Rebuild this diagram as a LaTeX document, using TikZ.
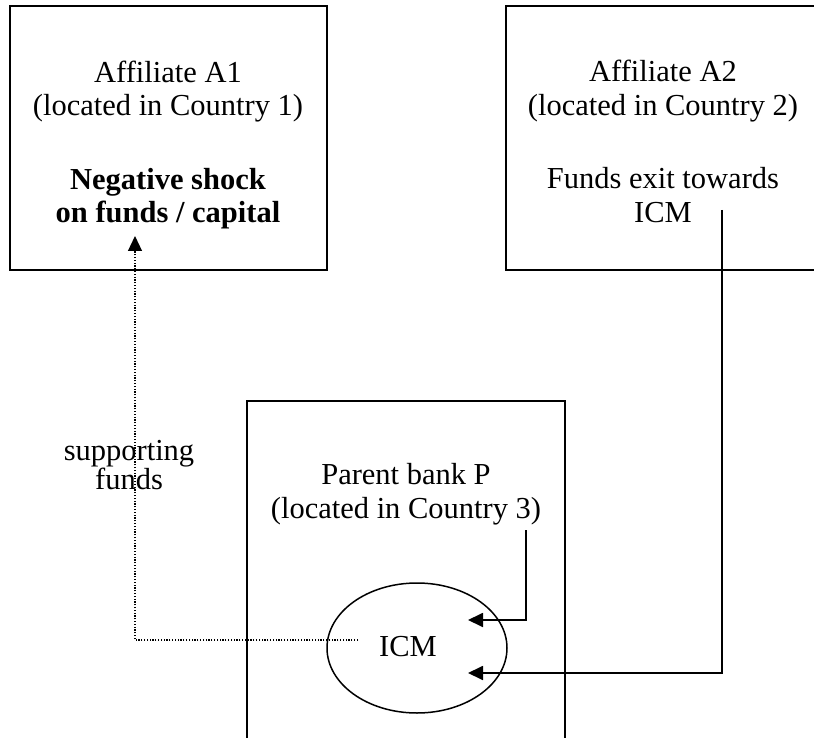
\documentclass[tikz,border=0pt]{standalone}
\usepackage{fontspec}
\setmainfont{Liberation Serif}
\usetikzlibrary{arrows.meta,shapes.geometric}
\begin{document}
\begin{tikzpicture}[x=1pt,y=-1pt,
  every node/.style={font=\fontsize{30.5}{33.5}\selectfont, inner sep=0pt},
  unitbox/.style={draw, line width=1.8pt, rectangle},
  feed/.style={line width=1.8pt, -{Triangle[length=15pt,width=14pt]}},
  support/.style={line width=1.2pt, dash pattern=on 1.2pt off 1.6pt, -{Triangle[length=15pt,width=14pt]}}]
\useasboundingbox (0,0) rectangle (814,738);

% ---------- boxes ----------
\node[unitbox, minimum width=317pt, minimum height=264pt] (a1) at (168.5,138) {};
\node[unitbox, minimum width=314pt, minimum height=264pt] (a2) at (663,138) {};
\node[unitbox, minimum width=318pt, minimum height=360pt] (parent) at (406,581) {};
\node[draw, ellipse, line width=1.5pt, minimum width=180pt, minimum height=130pt] (icmring) at (417,648) {};

% ---------- texts ----------
\node[align=center] (a1txt) at (168,145) {Affiliate A1\\(located in Country 1)\\[40pt]\textbf{Negative shock}\\\textbf{on funds / capital}};
\node[align=center] (a2txt) at (663,141.6) {Affiliate A2\\(located in Country 2)\\[40pt]Funds exit towards\\ICM};
\node[align=center] (ptxt) at (406,494.3) {Parent bank P\\(located in Country 3)};
\node[align=center, font=\fontsize{30.5}{25}\selectfont] (suptxt) at (129,465) {supporting\\funds};
\node (icm) at (408,647) {ICM};

% ---------- flows ----------
\coordinate (pout) at (526,530);
\coordinate (a2out) at (722,210);
\coordinate (in1) at (468,620);
\coordinate (in2) at (468,673);
\coordinate (icmout) at (358,640);
\coordinate (a1in) at (135,236);
\draw[feed] (pout) |- (in1);
\draw[feed] (a2out) |- (in2);
\draw[support] (icmout) -| (a1in);

\end{tikzpicture}
\end{document}
